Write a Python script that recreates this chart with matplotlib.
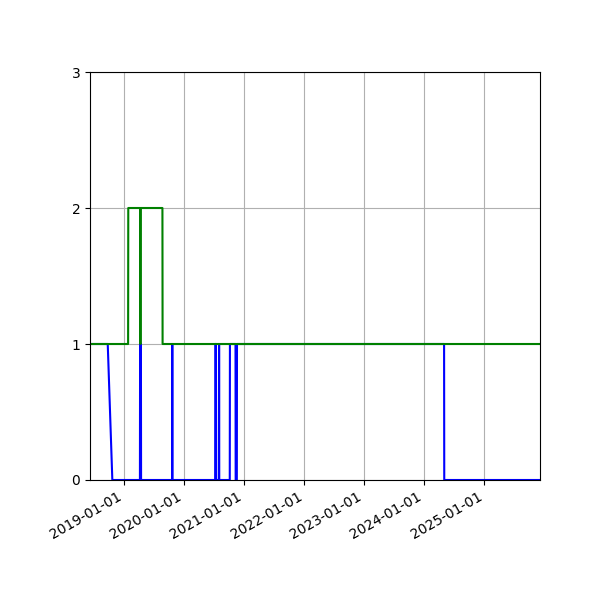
import pandas as pd
import matplotlib
matplotlib.use("Agg")
import matplotlib.pyplot as plt
import matplotlib.dates as mdates

blue_dates = ["2018-06-06", "2018-09-22", "2018-10-20",
              "2019-04-06", "2019-04-07", "2019-04-12", "2019-04-13",
              "2019-10-19", "2019-10-20", "2019-10-21",
              "2020-07-07", "2020-07-08", "2020-07-12", "2020-07-13",
              "2020-07-30", "2020-07-31", "2020-08-01",
              "2020-10-04", "2020-10-05",
              "2020-11-08", "2020-11-09", "2020-11-16", "2020-11-17",
              "2024-05-01", "2024-05-02", "2025-12-06"]
blue_vals = [1, 1, 0,
             0, 1, 1, 0,
             0, 1, 0,
             0, 1, 1, 0,
             0, 1, 0,
             0, 1,
             1, 0, 0, 1,
             1, 0, 0]

green_dates = ["2018-06-06", "2019-01-24", "2019-01-25",
               "2019-04-08", "2019-04-09", "2019-04-10",
               "2019-08-21", "2019-08-22", "2025-12-06"]
green_vals = [1, 1, 2,
              2, 1, 2,
              2, 1, 1]

blue_x = pd.to_datetime(blue_dates)
green_x = pd.to_datetime(green_dates)

fig, ax = plt.subplots(figsize=(6, 6), dpi=100)
ax.plot(blue_x, blue_vals, color="b")
ax.plot(green_x, green_vals, color="g")

ax.set_xlim(blue_x[0], blue_x[-1])
ax.set_ylim(0, 3)
ax.set_yticks([0, 1, 2, 3])
ax.xaxis.set_major_locator(mdates.YearLocator())
ax.xaxis.set_major_formatter(mdates.DateFormatter("%Y-%m-%d"))
ax.grid(True)
fig.autofmt_xdate()
fig.subplots_adjust(left=0.15, right=0.9, top=0.88, bottom=0.2)
fig.savefig("out.png")
